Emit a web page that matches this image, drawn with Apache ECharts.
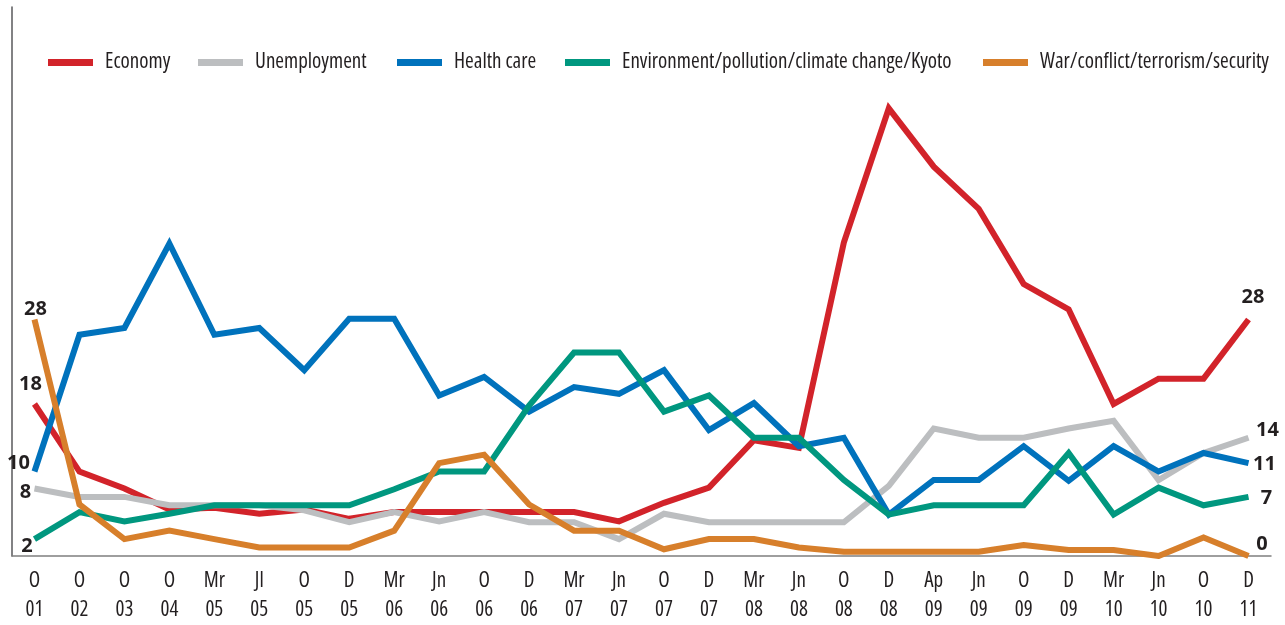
<!DOCTYPE html>
<html>
<head>
<meta charset="utf-8">
<script src="https://cdn.jsdelivr.net/npm/echarts@6/dist/echarts.min.js"></script>
<style>
html,body{margin:0;padding:0;background:#fff;}
#chart{width:1285px;height:625px;}
</style>
</head>
<body>
<div id="chart"></div>
<script>
const categories = ["O\n01","O\n02","O\n03","O\n04","Mr\n05","Jl\n05","O\n05","D\n05","Mr\n06","Jn\n06","O\n06","D\n06","Mr\n07","Jn\n07","O\n07","D\n07","Mr\n08","Jn\n08","O\n08","D\n08","Ap\n09","Jn\n09","O\n09","D\n09","Mr\n10","Jn\n10","O\n10","D\n11"];

const economy = [18,10,8,5.5,5.7,5,5.5,4.4,5.2,5.2,5.2,5.2,5.2,4.1,6.3,8.1,13.7,12.8,37.1,53,46.1,41.1,32.2,29.2,18,21,21,28];
const unemployment = [8,7,7,6,6,6,5.4,4,5.2,4.1,5.2,4,4,2,5,4,4,4,4,8.3,15.1,14,14,15.1,16,9,12.2,14];
const healthCare = [10,26.2,27,37,26.2,27,22,28.1,28.1,19,21.2,17.1,20,19.2,22,14.9,18.1,13,14,4.9,9,9,13,8.9,13,10,12.2,11];
const environment = [2,5.2,4.1,5,6,6,6,6,7.9,10,10,17.8,24.1,24.1,17.1,19,14,14,9,4.9,6,6,6,12.2,4.9,8.1,6,7];
const war = [28,6.1,2,3,2,1,1,1,3,11,12,6.1,3,3,0.8,2,2,1,0.5,0.5,0.5,0.5,1.3,0.7,0.7,0,2.2,0];

const seriesNames = ["Economy","Unemployment","Health care","Environment/pollution/climate change/Kyoto","War/conflict/terrorism/security"];
const seriesValues = [economy, unemployment, healthCare, environment, war];

// styling / layout (not data)
const colors = ["#d2232a","#bcbec0","#0072bc","#00977f","#d77f2b"];
const startOffsets = [[-4,-20],[-9,4],[-16,-8],[-7.5,7],[1,-10.5]];
const endOffsets = [[4.5,-22],[19,-7.5],[16,1.5],[18,1],[13.5,-11.5]];
const legendLefts = [48,198,397,565,983];
const textColor = "#231f20";
const condFont = "'Open Sans'";

const chart = echarts.init(document.getElementById('chart'), null, {renderer:'canvas'});

const labelBase = {
  show: true,
  position: 'inside',
  align: 'center',
  verticalAlign: 'middle',
  color: textColor,
  fontFamily: "'Open Sans'",
  fontWeight: 'bold',
  fontSize: 20,
  formatter: p => String(p.value)
};

const series = seriesValues.map((vals, s) => ({
  name: seriesNames[s],
  type: 'line',
  color: colors[s],
  symbol: 'circle',
  symbolSize: 0.1,
  showSymbol: true,
  lineStyle: {width: 6, color: colors[s], join: 'miter', miterLimit: 10, cap: 'butt'},
  itemStyle: {color: colors[s]},
  emphasis: {disabled: true},
  animation: false,
  label: {show: false},
  data: vals.map((v, i) => {
    if (i === 0) return {value: v, label: Object.assign({}, labelBase, {offset: startOffsets[s]})};
    if (i === vals.length - 1) return {value: v, label: Object.assign({}, labelBase, {offset: endOffsets[s]})};
    return v;
  })
}));

const legends = seriesNames.map((n, s) => ({
  data: [n],
  left: legendLefts[s],
  top: 52,
  padding: 0,
  icon: 'rect',
  itemWidth: 45,
  itemHeight: 7,
  itemGap: 0,
  selectedMode: false,
  textStyle: {
    color: textColor,
    fontFamily: condFont,
    fontWeight: 'condensed',
    fontSize: 21,
    lineHeight: 20,
    padding: [0,0,0,7]
  }
}));

chart.setOption({
  animation: false,
  backgroundColor: '#ffffff',
  legend: legends,
  grid: {left: 12, right: 14, top: 7, bottom: 61, containLabel: false},
  xAxis: {
    type: 'category',
    data: categories,
    boundaryGap: true,
    axisLine: {show: true, lineStyle: {color: '#7f7f7f', width: 1.5}},
    axisTick: {show: false},
    axisLabel: {
      color: textColor,
      fontFamily: condFont,
      fontWeight: 'condensed',
      fontSize: 21,
      lineHeight: 29,
      margin: 11,
      interval: 0
    },
    splitLine: {show: false}
  },
  yAxis: {
    type: 'value',
    min: 0,
    max: 65,
    axisLine: {show: true, lineStyle: {color: '#58595b', width: 1.5}},
    axisTick: {show: false},
    axisLabel: {show: false},
    splitLine: {show: false}
  },
  series: series
});
</script>
</body>
</html>
